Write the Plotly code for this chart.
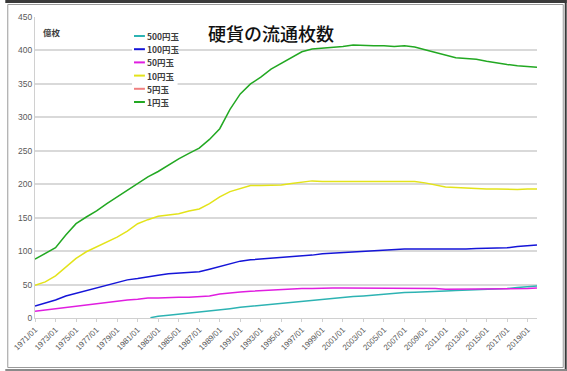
import plotly.graph_objects as go

# ---------------- data (億枚, January of each year; last point = 2019/12) ----------------
dates = [f"{y}-01-01" for y in range(1971, 2020)] + ["2019-12-01"]

yen1 = [88, 96, 105, 124, 141, 151, 160, 171, 181, 192,
        202, 211, 219, 229, 238, 246, 254, 267, 283, 312,
        335, 350, 360, 372, 381, 390, 398, 402, 403, 405,
        406, 408, 407, 407, 407, 406, 407, 405, 401, 397,
        392, 389, 388, 387, 384, 381, 379, 377, 376, 375]

yen10 = [49, 54, 63, 76, 89, 99, 106, 114, 121, 130,
         141, 147, 152, 154, 156, 160, 163, 171, 181, 189,
         194, 198, 198, 198, 199, 201, 203, 205, 204, 204,
         205, 205, 205, 205, 205, 205, 205, 204, 202, 199,
         196, 195, 194, 194, 193, 193, 192, 192, 193, 193]

yen100 = [18, 22, 27, 33, 37, 42, 46, 50, 54, 57,
          59, 62, 64, 66, 67, 68, 69, 73, 77, 82,
          85, 87, 88, 89, 91, 92, 93, 94, 96, 97,
          98, 99, 99, 100, 102, 103, 103, 103, 103, 102,
          102, 102, 103, 104, 104, 105, 105, 107, 108, 109]

yen50 = [10, 12, 14, 16, 18, 20, 22, 24, 25, 27,
         28, 30, 30, 31, 31, 31, 32, 33, 36, 38,
         39, 40, 41, 41, 42, 43, 44, 44, 45, 45,
         45, 45, 45, 45, 45, 45, 45, 44, 44, 44,
         43, 43, 43, 43, 43, 43, 44, 44, 44, 45]

yen5 = [None] * len(dates)   # not drawn in the reference

dates500 = ["1982-04-01"] + [f"{y}-01-01" for y in range(1983, 2020)] + ["2019-12-01"]
yen500 = [0.5, 2.5, 4, 5.5, 7, 9, 10.5, 12, 14, 16,
          17.5, 19, 20.5, 22, 24, 25.5, 27, 28.5, 30, 31,
          32, 33, 34.5, 36, 37, 38, 38.5, 39.5, 40, 40.5,
          41, 41.5, 42, 42.5, 43, 44, 45.5, 47, 48]

series = [
    ("500円玉", dates500, yen500, "#2DB3B3"),
    ("100円玉", dates, yen100, "#1515D8"),
    ("50円玉", dates, yen50, "#E01EE0"),
    ("10円玉", dates, yen10, "#E3E31A"),
    ("5円玉", dates, yen5, "#F08080"),
    ("1円玉", dates, yen1, "#22A822"),
]

y_ticks = [0, 50, 100, 150, 200, 250, 300, 350, 400, 450]

# ---------------- figure ----------------
W, H = 567, 371
L, R, T, B = 30, 30, 17, 53
PW, PH = W - L - R, H - T - B

def px(x):
    return (x - L) / PW

def py(y):
    return (H - B - y) / PH

fig = go.Figure()
for name, xs, ys, col in series:
    fig.add_trace(go.Scatter(x=xs, y=ys, name=name, mode="lines",
                             line=dict(color=col, width=1.5),
                             showlegend=False, connectgaps=False))

font_cjk = "Noto Sans CJK JP"

shapes = []
annotations = []

# manual legend (compact, like Excel)
leg_x0, leg_y0, leg_dy = 128, 36, 13.2
shapes.append(dict(type="rect", xref="paper", yref="paper",
                   x0=px(leg_x0), x1=px(174), y0=py(leg_y0 - 7), y1=py(leg_y0 + 5 * leg_dy + 7),
                   fillcolor="white", line=dict(width=0), layer="above"))
for i, (name, xs, ys, col) in enumerate(series):
    yy = leg_y0 + i * leg_dy
    shapes.append(dict(type="line", xref="paper", yref="paper",
                       x0=px(leg_x0 + 2), x1=px(leg_x0 + 13), y0=py(yy), y1=py(yy),
                       line=dict(color=col, width=2), layer="above"))
    annotations.append(dict(text=f"<b>{name}</b>", xref="paper", yref="paper",
                            x=px(leg_x0 + 13), y=py(yy), xanchor="left", yanchor="middle",
                            showarrow=False, font=dict(size=8.5, color="#404040", family=font_cjk)))

# title and unit
annotations.append(dict(text="硬貨の流通枚数", xref="paper", yref="paper",
                        x=px(268), y=py(33), xanchor="center", yanchor="middle",
                        showarrow=False, font=dict(size=18, color="#111111", family=font_cjk, weight=500)))
annotations.append(dict(text="<b>億枚</b>", xref="paper", yref="paper",
                        x=px(36), y=py(32), xanchor="left", yanchor="middle",
                        showarrow=False, font=dict(size=8.5, color="#404040", family=font_cjk)))

# outer frame like the screenshot
shapes.append(dict(type="rect", xref="paper", yref="paper",
                   x0=px(2.5), x1=px(563.5), y0=py(367.5), y1=py(4.5),
                   line=dict(color="#9a9a9a", width=1), fillcolor="rgba(0,0,0,0)", layer="below"))
shapes.append(dict(type="rect", xref="paper", yref="paper",
                   x0=px(0), x1=px(567), y0=py(3), y1=py(0),
                   line=dict(width=0), fillcolor="#3a3a3a", layer="below"))
shapes.append(dict(type="rect", xref="paper", yref="paper",
                   x0=px(565), x1=px(567), y0=py(371), y1=py(0),
                   line=dict(width=0), fillcolor="#3a3a3a", layer="below"))
shapes.append(dict(type="rect", xref="paper", yref="paper",
                   x0=px(0), x1=px(567), y0=py(371), y1=py(369),
                   line=dict(width=0), fillcolor="#8a8a8a", layer="below"))

fig.update_layout(
    width=W, height=H,
    margin=dict(l=L, r=R, t=T, b=B, pad=0),
    paper_bgcolor="white", plot_bgcolor="white",
    showlegend=False,
    shapes=shapes, annotations=annotations,
    font=dict(family="Liberation Sans, Arial", color="#595959"),
    xaxis=dict(type="date", range=["1971-01-01", "2019-12-01"],
               tick0="1971-01-01", dtick="M24", tickformat="%Y/%m",
               tickangle=-45, tickfont=dict(size=8, color="#595959"),
               showgrid=False, showline=True, linecolor="#d0d0d0", linewidth=1,
               ticks="outside", ticklen=3, tickcolor="#d0d0d0", zeroline=False),
    yaxis=dict(range=[0, 450], tickvals=y_ticks, tickfont=dict(size=8.5, color="#595959"),
               showgrid=True, gridcolor="#d9d9d9", gridwidth=1.5,
               showline=True, linecolor="#d0d0d0", linewidth=1,
               ticks="", ticklen=0, zeroline=False),
)

fig.write_html("out.html", config={"displayModeBar": False},
               post_script="document.body.style.margin='0';document.body.style.padding='0';")
